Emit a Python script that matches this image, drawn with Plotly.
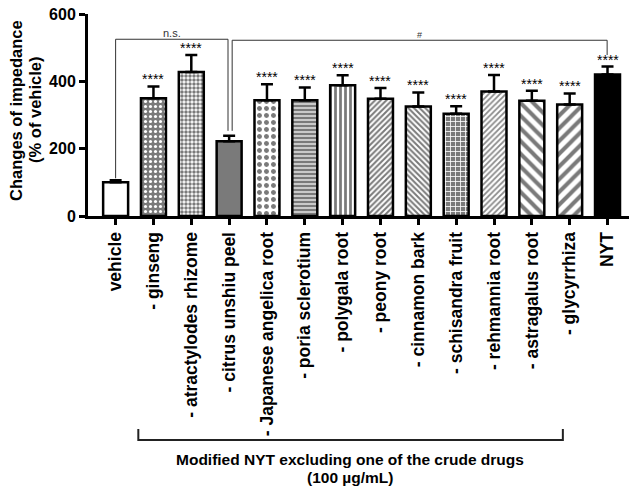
import plotly.graph_objects as go

# groups on the x axis
labels = ["vehicle", "- ginseng", "- atractylodes rhizome", "- citrus unshiu peel",
          "- Japanese angelica root", "- poria sclerotium", "- polygala root",
          "- peony root", "- cinnamon bark", "- schisandra fruit", "- rehmannia root",
          "- astragalus root", "- glycyrrhiza", "NYT"]

# mean change of impedance (% of vehicle) and SEM
means = [100, 350, 428, 222, 344, 344, 388, 348, 325, 304, 370, 342, 331, 420]
sems = [6, 35, 50, 16, 47, 38, 30, 32, 42, 22, 49, 30, 33, 24]
stars = ["", "****", "****", "", "****", "****", "****", "****", "****", "****",
         "****", "****", "****", "****"]

# bar fills (pattern shape, foreground, background, spacing, solidity)
G = "#7a7a7a"
shapes_ = ["/", ".", ".", "/", ".", "-", "|", "/", "\\", "+", "/", "\\", "/", "/"]
fg = ["white", "white", G, G, G, "white", G, G, G, "white", "#8a8a8a", G, G, "black"]
bg = ["white", G, "white", G, "white", G, "white", "white", "white", G, "white", "white", "white", "black"]
psize = [6, 5, 4, 6, 7, 4, 5, 4, 4, 5, 4, 9, 9, 6]
psolid = [0.3, 0.3, 0.6, 0.3, 0.4, 0.3, 0.55, 0.5, 0.5, 0.3, 0.45, 0.45, 0.45, 0.3]

fig = go.Figure()
fig.add_trace(go.Bar(
    x=list(range(len(labels))), y=means, width=0.66,
    marker=dict(color="white", line=dict(color="black", width=2.5),
                pattern=dict(shape=shapes_, fgcolor=fg, bgcolor=bg, size=psize,
                             solidity=psolid, fillmode="replace")),
    error_y=dict(type="data", array=sems, arrayminus=[0] * len(sems), symmetric=False,
                 color="black", thickness=2.5, width=6),
    showlegend=False))

# significance stars
for i, s in enumerate(stars):
    if s:
        fig.add_annotation(x=i, y=means[i] + sems[i], text=s, showarrow=False,
                           yanchor="bottom", yshift=-3, font=dict(size=14, color="black"))

# comparison brackets: (x0, x1, top, left foot, right foot, label)
brackets = [(0, 2.97, 525, 112, 253, "n.s."), (3.08, 12.99, 522, 253, 478, "#")]
for x0, x1, top, f0, f1, txt in brackets:
    fig.add_shape(type="line", x0=x0, x1=x0, y0=f0, y1=top, line=dict(color="#333", width=1))
    fig.add_shape(type="line", x0=x0, x1=x1, y0=top, y1=top, line=dict(color="#333", width=1))
    fig.add_shape(type="line", x0=x1, x1=x1, y0=top, y1=f1, line=dict(color="#333", width=1))
    fig.add_annotation(x=(x0 + x1) / 2, y=top, text=txt, showarrow=False, yanchor="bottom",
                       yshift=-2, font=dict(size=11 if txt == "n.s." else 9, color="#333"))

# group bracket under the labels
fig.add_shape(type="path", xref="x", yref="paper",
              path="M 0.6 -1.0545 L 0.6 -1.109 L 11.82 -1.109 L 11.82 -1.0545",
              line=dict(color="#222", width=2))
fig.add_annotation(x=6.2, xref="x", y=-1.203, yref="paper", showarrow=False,
                   xanchor="center", yanchor="middle",
                   text="<b>Modified NYT excluding one of the crude drugs</b>",
                   font=dict(size=15.5, color="black"))
fig.add_annotation(x=6.2, xref="x", y=-1.297, yref="paper", showarrow=False,
                   xanchor="center", yanchor="middle",
                   text="<b>(100 µg/mL)</b>", font=dict(size=15.5, color="black"))

# y axis title, two lines
fig.add_annotation(x=-0.1319, xref="paper", y=0.525, yref="paper", showarrow=False,
                   xanchor="center", yanchor="middle", textangle=-90,
                   text="<b>Changes of impedance</b>", font=dict(size=16.5, color="black"))
fig.add_annotation(x=-0.0971, xref="paper", y=0.525, yref="paper", showarrow=False,
                   xanchor="center", yanchor="middle", textangle=-90,
                   text="<b>(% of vehicle)</b>", font=dict(size=16.5, color="black"))

fig.update_xaxes(tickmode="array", tickvals=list(range(len(labels))), ticktext=labels,
                 tickangle=-90, range=[-0.73, 13.7], showline=True, linewidth=3,
                 linecolor="black", ticks="outside", ticklen=6, tickwidth=3,
                 tickcolor="black", showgrid=False, zeroline=False,
                 tickfont=dict(size=17.5, color="black", weight="bold"))
fig.update_yaxes(range=[0, 600], tickvals=[0, 200, 400, 600], showline=True, linewidth=3,
                 linecolor="black", ticks="outside", ticklen=6, tickwidth=3,
                 tickcolor="black", showgrid=False, zeroline=False,
                 ticklabeloverflow="allow",
                 tickfont=dict(size=16, color="black", weight="bold"))

fig.update_layout(width=629, height=480, plot_bgcolor="white", paper_bgcolor="white",
                  font=dict(family="Liberation Sans, Arial, sans-serif"),
                  margin=dict(l=80, r=3, t=6, b=272, autoexpand=False))

fig.write_html("out.html")
